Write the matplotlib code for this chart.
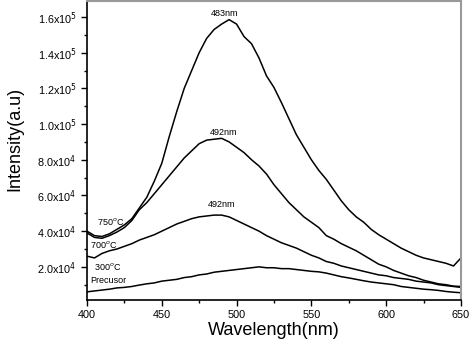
import numpy as np
import matplotlib.pyplot as plt
from matplotlib.ticker import FixedLocator, MultipleLocator

plt.rcParams['font.family'] = ['Liberation Sans', 'DejaVu Sans']

# Wavelength (nm)
wl = np.arange(400, 651, 5)

# Intensity values (a.u.)
i_750 = [4.0e4, 3.75e4, 3.7e4, 3.85e4, 4.1e4, 4.35e4, 4.7e4, 5.3e4, 5.9e4, 6.8e4,
         7.8e4, 9.3e4, 1.07e5, 1.2e5, 1.3e5, 1.4e5, 1.48e5, 1.53e5, 1.56e5, 1.585e5,
         1.56e5, 1.49e5, 1.45e5, 1.37e5, 1.27e5, 1.205e5, 1.12e5, 1.03e5, 9.4e4, 8.7e4,
         8.0e4, 7.4e4, 6.9e4, 6.3e4, 5.7e4, 5.2e4, 4.8e4, 4.5e4, 4.1e4, 3.8e4,
         3.55e4, 3.3e4, 3.05e4, 2.85e4, 2.65e4, 2.5e4, 2.4e4, 2.3e4, 2.2e4, 2.05e4,
         2.5e4]
i_700 = [3.9e4, 3.65e4, 3.6e4, 3.75e4, 3.95e4, 4.2e4, 4.6e4, 5.2e4, 5.6e4, 6.1e4,
         6.6e4, 7.1e4, 7.6e4, 8.1e4, 8.5e4, 8.9e4, 9.1e4, 9.15e4, 9.2e4, 9.0e4,
         8.7e4, 8.4e4, 8.0e4, 7.65e4, 7.2e4, 6.6e4, 6.1e4, 5.6e4, 5.2e4, 4.8e4,
         4.5e4, 4.2e4, 3.75e4, 3.55e4, 3.3e4, 3.1e4, 2.9e4, 2.65e4, 2.4e4, 2.15e4,
         2.0e4, 1.8e4, 1.65e4, 1.5e4, 1.4e4, 1.25e4, 1.15e4, 1.05e4, 1.0e4, 0.92e4,
         0.9e4]
i_300 = [2.6e4, 2.5e4, 2.75e4, 2.9e4, 3.0e4, 3.15e4, 3.3e4, 3.5e4, 3.65e4, 3.8e4,
         4.0e4, 4.2e4, 4.4e4, 4.55e4, 4.7e4, 4.8e4, 4.85e4, 4.9e4, 4.9e4, 4.8e4,
         4.6e4, 4.4e4, 4.2e4, 4.0e4, 3.75e4, 3.55e4, 3.35e4, 3.2e4, 3.05e4, 2.85e4,
         2.65e4, 2.5e4, 2.3e4, 2.2e4, 2.05e4, 1.95e4, 1.85e4, 1.75e4, 1.65e4, 1.55e4,
         1.5e4, 1.4e4, 1.35e4, 1.3e4, 1.2e4, 1.15e4, 1.1e4, 1.0e4, 0.95e4, 0.9e4,
         0.85e4]
i_pre = [0.6e4, 0.65e4, 0.7e4, 0.75e4, 0.82e4, 0.85e4, 0.9e4, 0.98e4, 1.05e4, 1.1e4,
         1.2e4, 1.25e4, 1.3e4, 1.4e4, 1.45e4, 1.55e4, 1.6e4, 1.7e4, 1.75e4, 1.8e4,
         1.85e4, 1.9e4, 1.95e4, 2.0e4, 1.95e4, 1.95e4, 1.9e4, 1.9e4, 1.85e4, 1.8e4,
         1.75e4, 1.72e4, 1.65e4, 1.55e4, 1.45e4, 1.38e4, 1.3e4, 1.22e4, 1.15e4, 1.1e4,
         1.05e4, 1.0e4, 0.9e4, 0.85e4, 0.8e4, 0.75e4, 0.72e4, 0.68e4, 0.62e4, 0.58e4,
         0.55e4]

ytick_vals = [2e4, 4e4, 6e4, 8e4, 1e5, 1.2e5, 1.4e5, 1.6e5]
ytick_labels = [r'2.0x10$^4$', r'4.0x10$^4$', r'6.0x10$^4$', r'8.0x10$^4$',
                r'1.0x10$^5$', r'1.2x10$^5$', r'1.4x10$^5$', r'1.6x10$^5$']

fig = plt.figure(figsize=(4.74, 3.57), dpi=100)
ax = fig.add_axes([0.1835, 0.16, 0.789, 0.836])

for y in (i_750, i_700, i_300, i_pre):
    ax.plot(wl, y, color='black', lw=1.1)

ax.set_xlim(400, 650)
ax.set_ylim(1500, 1.687e5)
ax.xaxis.set_major_locator(MultipleLocator(50))
ax.xaxis.set_minor_locator(MultipleLocator(25))
ax.yaxis.set_major_locator(FixedLocator(ytick_vals))
ax.set_yticklabels(ytick_labels)
ax.yaxis.set_minor_locator(MultipleLocator(1e4))
ax.tick_params(which='major', direction='out', length=4, width=1, labelsize=7.8)
ax.tick_params(which='minor', direction='out', length=2, width=1)
ax.tick_params(top=False, right=False)

for s in ('left', 'bottom'):
    ax.spines[s].set_linewidth(1.2)
for s in ('top', 'right'):
    ax.spines[s].set_color('#999999')
    ax.spines[s].set_linewidth(1.5)

ax.set_xlabel('Wavelength(nm)', fontsize=13, labelpad=1)
ax.set_ylabel('Intensity(a.u)', fontsize=13)
ax.yaxis.set_label_coords(-0.17, 0.54)

ax.text(492, 1.62e5, '483nm', fontsize=6.5, ha='center', va='center')
ax.text(491, 9.5e4, '492nm', fontsize=6.5, ha='center', va='center')
ax.text(490, 5.5e4, '492nm', fontsize=6.5, ha='center', va='center')
ax.text(416, 4.55e4, '750$^o$C', fontsize=6.5, ha='center', va='center')
ax.text(411, 3.25e4, '700$^o$C', fontsize=6.5, ha='center', va='center')
ax.text(414, 2.0e4, '300$^o$C', fontsize=6.5, ha='center', va='center')
ax.text(414.5, 1.23e4, 'Precusor', fontsize=6.5, ha='center', va='center')

fig.savefig('out.png', dpi=100)
